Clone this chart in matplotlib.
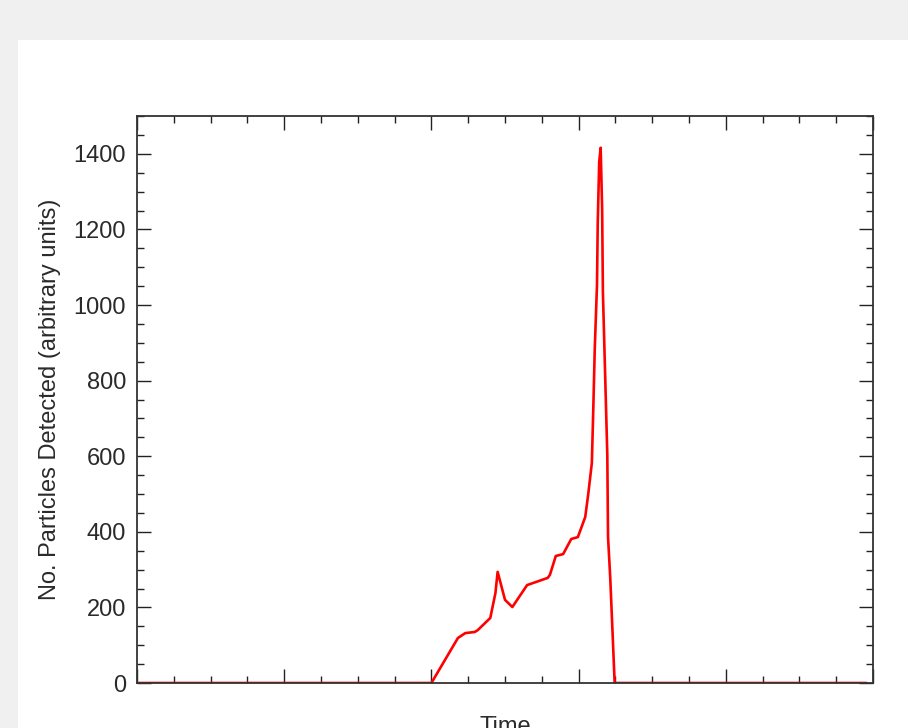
import matplotlib.pyplot as plt                  # plotting
from matplotlib.patches import Rectangle         # white panel behind the plot
from matplotlib.ticker import MultipleLocator    # tick spacing

# Time axis (arbitrary units) and detected particle counts
time = [0.0, 40.0, 43.6, 44.6, 45.9, 46.3, 48.0, 48.7, 49.0, 50.0, 51.0, 53.0,
        55.8, 56.1, 56.9, 57.9, 59.0, 59.9, 60.9, 61.3, 61.8, 62.0, 62.2, 62.5,
        62.6, 62.8, 63.0, 63.2, 63.3, 63.6, 63.9, 64.0, 64.3, 64.9, 99.0]
counts = [0, 0, 119, 132, 135, 140, 172, 238, 294, 220, 201, 259,
          278, 286, 336, 341, 381, 386, 439, 498, 582, 728, 887, 1053,
          1217, 1379, 1416, 1252, 1035, 820, 603, 386, 278, 0, 0]

y_label = "No. Particles Detected (arbitrary units)"
x_label = "Time"

plt.rcParams['font.family'] = ['Liberation Sans', 'DejaVu Sans']

fig = plt.figure(figsize=(9.08, 7.28), dpi=100)
fig.patch.set_facecolor('#f0f0f0')
# white page area, gray strip on top and left (drawn below the axes)
fig.patches.append(Rectangle((18 / 908, 0), 1, (728 - 40) / 728,
                             transform=fig.transFigure, facecolor='white',
                             edgecolor='none', zorder=-5))

ax = fig.add_axes([137 / 908, 45 / 728, 736 / 908, 567 / 728])
ax.set_facecolor('white')
ax.plot(time, counts, color='red', linewidth=1.9)

ax.set_xlim(0, 100)
ax.set_ylim(0, 1500)
ax.xaxis.set_major_locator(MultipleLocator(20))
ax.xaxis.set_minor_locator(MultipleLocator(5))
ax.yaxis.set_major_locator(MultipleLocator(200))
ax.yaxis.set_minor_locator(MultipleLocator(50))
ax.tick_params(which='both', direction='in', top=True, right=True,
               color='#222222', width=1.0)
ax.tick_params(which='major', length=10, labelsize=17, labelcolor='#2a2a2a', pad=8)
ax.tick_params(which='minor', length=5)
ax.tick_params(axis='x', labelbottom=False)
for side in ax.spines.values():
    side.set_color('#333333')
    side.set_linewidth(1.3)

ax.set_ylabel(y_label, fontsize=17, color='#2a2a2a')
ax.yaxis.set_label_coords(-0.103, 0.5)
ax.set_xlabel(x_label, fontsize=17, color='#2a2a2a')
ax.xaxis.set_label_coords(0.5, -0.058)

fig.savefig('out.png', dpi=100, facecolor=fig.get_facecolor())
